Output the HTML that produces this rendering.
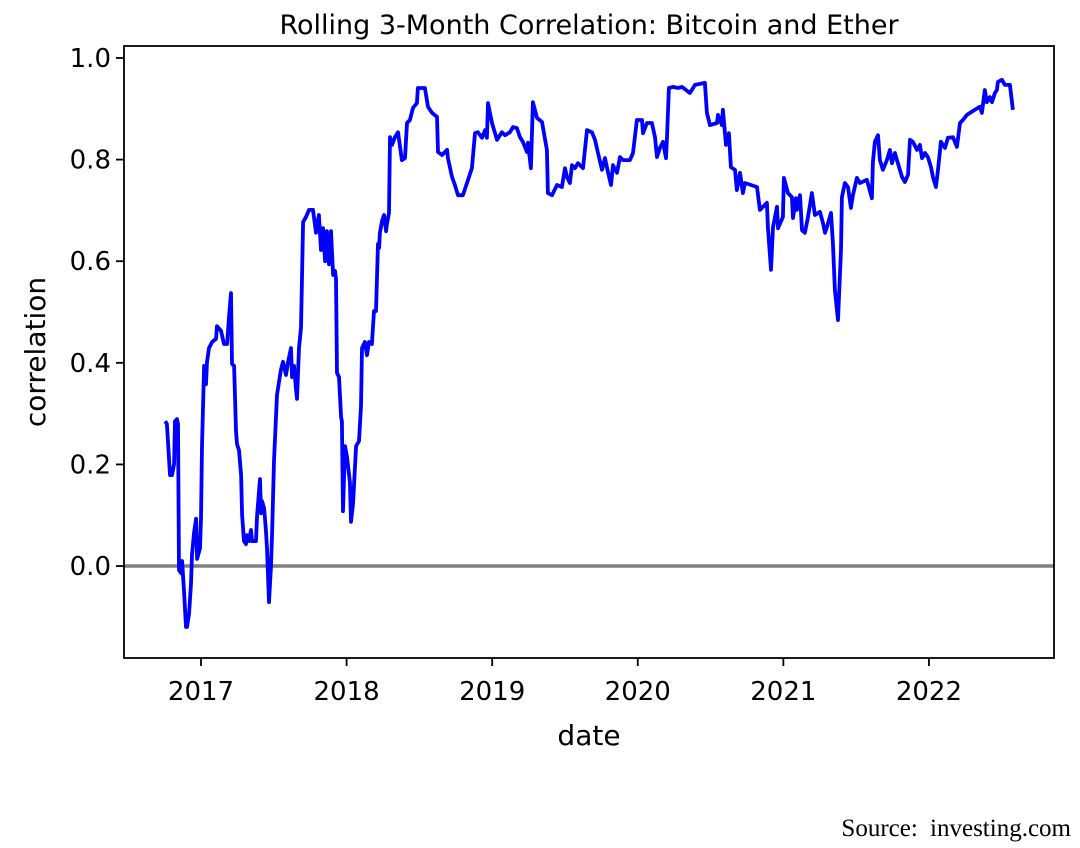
<!DOCTYPE html>
<html><head><meta charset="utf-8"><style>
body{margin:0;background:#fff;}
svg{display:block;font-family:"DejaVu Sans","Liberation Sans",sans-serif;}
</style></head><body>
<svg id="chart" width="1080" height="848" viewBox="0 0 1080 848" xmlns="http://www.w3.org/2000/svg">
<rect width="1080" height="848" fill="#fff"/>
<text x="589" y="34" font-size="27" text-anchor="middle">Rolling 3-Month Correlation: Bitcoin and Ether</text>
<g id="plot"></g>
<text x="589" y="745" font-size="28" text-anchor="middle">date</text>
<text transform="translate(45,352) rotate(-90)" font-size="28" text-anchor="middle">correlation</text>
<text x="1071" y="836" font-size="25" text-anchor="end" word-spacing="6" font-family="'Liberation Serif',serif">Source:  investing.com</text>
</svg>
<script>
const dates=[2016.753,2016.766,2016.787,2016.801,2016.815,2016.821,2016.835,2016.842,2016.849,2016.863,2016.870,2016.883,2016.897,2016.904,2016.918,2016.931,2016.938,2016.952,2016.966,2016.973,2016.993,2017.000,2017.007,2017.021,2017.034,2017.041,2017.055,2017.076,2017.103,2017.110,2017.137,2017.158,2017.179,2017.192,2017.206,2017.213,2017.227,2017.240,2017.247,2017.261,2017.275,2017.282,2017.295,2017.309,2017.316,2017.330,2017.343,2017.350,2017.378,2017.385,2017.405,2017.412,2017.419,2017.433,2017.446,2017.453,2017.467,2017.481,2017.488,2017.501,2017.522,2017.549,2017.563,2017.584,2017.598,2017.618,2017.625,2017.639,2017.652,2017.659,2017.673,2017.687,2017.701,2017.721,2017.742,2017.769,2017.790,2017.810,2017.824,2017.838,2017.852,2017.865,2017.879,2017.893,2017.907,2017.920,2017.927,2017.934,2017.948,2017.962,2017.968,2017.975,2017.989,2018.003,2018.023,2018.030,2018.044,2018.065,2018.085,2018.099,2018.106,2018.126,2018.140,2018.154,2018.174,2018.188,2018.202,2018.216,2018.223,2018.229,2018.243,2018.257,2018.271,2018.277,2018.291,
2018.298,2018.312,2018.332,2018.353,2018.380,2018.401,2018.415,2018.435,2018.456,2018.483,2018.490,2018.538,2018.559,2018.587,2018.621,2018.628,2018.655,2018.690,2018.696,2018.724,2018.744,2018.765,2018.799,2018.827,2018.861,2018.882,2018.902,2018.930,2018.951,2018.964,2018.971,2018.999,2019.033,2019.067,2019.088,2019.122,2019.143,2019.170,2019.191,2019.211,2019.239,2019.246,2019.266,2019.280,2019.308,2019.342,2019.376,2019.383,2019.411,2019.445,2019.479,2019.500,2019.514,2019.534,2019.548,2019.569,2019.589,2019.624,2019.651,2019.685,2019.706,2019.727,2019.754,2019.775,2019.795,2019.816,2019.830,2019.857,2019.878,2019.898,2019.946,2019.967,2019.994,2020.029,2020.036,2020.063,2020.097,2020.118,2020.132,2020.152,2020.173,2020.194,2020.201,2020.214,2020.242,2020.276,2020.303,2020.358,2020.393,2020.461,
2020.475,2020.496,2020.544,2020.551,2020.578,2020.585,2020.606,2020.626,2020.640,2020.668,2020.681,2020.702,2020.722,2020.736,2020.819,2020.839,2020.887,2020.894,2020.915,2020.929,2020.956,2020.963,2020.997,2021.004,2021.032,2021.059,2021.066,2021.087,2021.093,2021.114,2021.128,2021.148,2021.169,2021.196,2021.217,2021.251,2021.272,2021.286,2021.299,2021.327,2021.340,2021.354,2021.375,2021.396,2021.402,2021.423,2021.444,2021.464,2021.478,2021.505,2021.526,2021.574,2021.608,2021.615,2021.629,2021.650,2021.663,2021.684,2021.711,2021.732,2021.746,2021.766,2021.787,2021.815,2021.835,2021.856,2021.870,2021.890,2021.918,2021.938,2021.952,2021.973,2021.993,2022.014,2022.027,2022.048,2022.062,2022.082,2022.110,2022.130,2022.165,2022.192,2022.213,2022.233,2022.261,2022.281,2022.316,2022.350,2022.364,2022.384,2022.398,2022.419,2022.433,2022.453,2022.467,2022.474,2022.501,2022.522,2022.556,2022.577];
const correlation=[0.285,0.280,0.179,0.179,0.201,0.285,0.289,0.280,-0.008,-0.014,0.010,-0.049,-0.120,-0.120,-0.093,-0.035,0.022,0.065,0.093,0.014,0.035,0.093,0.236,0.394,0.358,0.402,0.429,0.441,0.447,0.472,0.463,0.437,0.437,0.490,0.537,0.398,0.394,0.266,0.240,0.228,0.179,0.100,0.049,0.043,0.061,0.049,0.071,0.049,0.049,0.100,0.171,0.104,0.128,0.114,0.071,0.035,-0.071,0.000,0.065,0.207,0.337,0.386,0.402,0.376,0.402,0.429,0.372,0.394,0.350,0.329,0.429,0.469,0.677,0.687,0.701,0.701,0.656,0.691,0.622,0.665,0.600,0.659,0.594,0.659,0.573,0.581,0.565,0.380,0.372,0.293,0.285,0.108,0.236,0.215,0.165,0.087,0.122,0.236,0.246,0.315,0.429,0.441,0.415,0.441,0.437,0.502,0.502,0.634,0.626,0.656,0.679,0.691,0.659,0.673,0.695,
0.844,0.829,0.844,0.854,0.799,0.803,0.872,0.878,0.902,0.911,0.941,0.941,0.904,0.892,0.884,0.815,0.809,0.819,0.803,0.766,0.750,0.730,0.730,0.754,0.783,0.852,0.854,0.843,0.858,0.843,0.911,0.872,0.839,0.854,0.848,0.854,0.864,0.862,0.844,0.835,0.815,0.833,0.783,0.913,0.882,0.874,0.819,0.734,0.730,0.750,0.746,0.783,0.766,0.754,0.789,0.783,0.793,0.783,0.858,0.854,0.839,0.813,0.780,0.803,0.776,0.750,0.789,0.774,0.805,0.799,0.799,0.813,0.878,0.878,0.852,0.872,0.872,0.844,0.805,0.823,0.835,0.803,0.844,0.941,0.943,0.941,0.943,0.931,0.947,0.951,
0.892,0.868,0.872,0.888,0.868,0.898,0.829,0.852,0.785,0.780,0.740,0.774,0.734,0.754,0.746,0.701,0.715,0.667,0.583,0.667,0.707,0.665,0.687,0.764,0.734,0.726,0.685,0.724,0.701,0.730,0.661,0.656,0.687,0.734,0.691,0.697,0.675,0.656,0.667,0.695,0.636,0.543,0.484,0.622,0.726,0.754,0.746,0.705,0.730,0.764,0.754,0.760,0.724,0.795,0.835,0.848,0.799,0.780,0.799,0.819,0.793,0.813,0.793,0.766,0.756,0.770,0.839,0.835,0.819,0.829,0.803,0.813,0.805,0.785,0.766,0.746,0.780,0.835,0.823,0.843,0.844,0.825,0.872,0.878,0.888,0.892,0.898,0.904,0.892,0.937,0.913,0.923,0.913,0.931,0.937,0.953,0.957,0.947,0.947,0.898];
const xTickYears=[2017,2018,2019,2020,2021,2022];
const yTickValues=[0.0,0.2,0.4,0.6,0.8,1.0];
const yTickLabels=["0.0","0.2","0.4","0.6","0.8","1.0"];

const NS="http://www.w3.org/2000/svg";
const L=124,R=1054,T=46,B=658;
const xMin=2016.471,xMax=2022.859,yMin=-0.181,yMax=1.0236;
function xScale(v){return L+(v-xMin)/(xMax-xMin)*(R-L);}
function yScale(v){return B-(v-yMin)/(yMax-yMin)*(B-T);}
const g=document.getElementById('plot');
function mk(tag,attrs){const e=document.createElementNS(NS,tag);for(const k in attrs)e.setAttribute(k,attrs[k]);g.appendChild(e);return e;}

const zero=mk('line',{x1:L,x2:R,y1:yScale(0),y2:yScale(0),stroke:'#808080','stroke-width':3.5});



let d='';
for(let i=0;i<dates.length;i++){d+=(i?'L':'M')+xScale(dates[i]).toFixed(1)+','+yScale(correlation[i]).toFixed(1);}
const line=mk('path',{d:d,fill:'none',stroke:'#0000ff','stroke-width':3.8,'stroke-linejoin':'round'});



const frame=mk('rect',{x:L,y:T,width:R-L,height:B-T,fill:'none',stroke:'#000','stroke-width':1.8});



xTickYears.forEach(yr=>{
  const x=xScale(yr);
  const t=mk('line',{x1:x,x2:x,y1:B,y2:B+8,stroke:'#000','stroke-width':1.8});
  
  
  const lb=mk('text',{x:x,y:B+42,'font-size':26,'text-anchor':'middle'});
  lb.textContent=String(yr);
  
  
});
yTickValues.forEach((v,i)=>{
  const y=yScale(v);
  const t=mk('line',{x1:L-8,x2:L,y1:y,y2:y,stroke:'#000','stroke-width':1.8});
  
  
  const lb=mk('text',{x:L-13,y:y+9,'font-size':26,'text-anchor':'end'});
  lb.textContent=yTickLabels[i];
  
  
});
</script>
</body></html>
